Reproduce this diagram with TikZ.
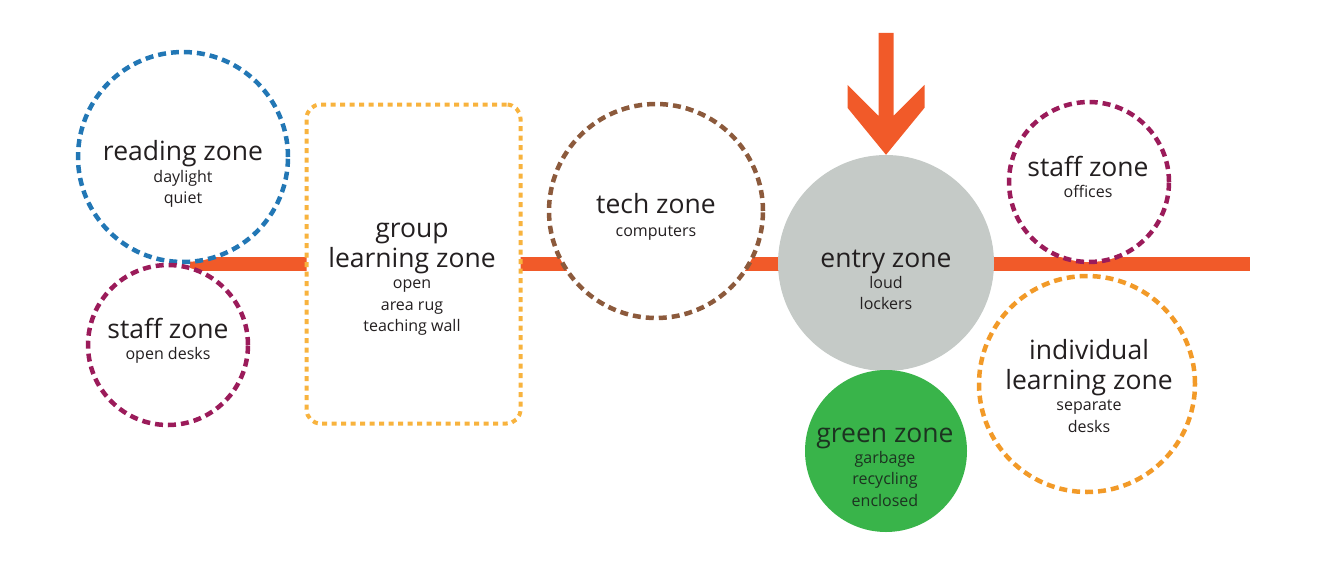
\documentclass[tikz,border=0pt]{standalone}
\usepackage{fontspec}
\setmainfont{Open Sans}
\definecolor{ink}{HTML}{231F20}
\definecolor{greenink}{HTML}{1C3320}
\definecolor{lineOr}{HTML}{F15A29}
\definecolor{blueZ}{HTML}{2277B5}
\definecolor{magZ}{HTML}{9B1B5A}
\definecolor{rectOr}{HTML}{F8B33E}
\definecolor{brownZ}{HTML}{8C5A3C}
\definecolor{indOr}{HTML}{F29A28}
\definecolor{grayZ}{HTML}{C5CAC7}
\definecolor{greenZ}{HTML}{39B44A}
\begin{document}
\begin{tikzpicture}[x=1pt,y=-1pt,
  zt/.style={anchor=base,font=\fontsize{26.5}{30}\selectfont,text=ink,inner sep=0pt},
  zs/.style={anchor=base,font=\fontsize{16}{20}\selectfont,text=ink,inner sep=0pt},
  dzone/.style={circle,draw,fill=white,line width=4.5pt,dash pattern=on 8pt off 5pt,minimum size=#1,inner sep=0pt},
  fzone/.style={circle,minimum size=#1,inner sep=0pt},
  corridor/.style={draw=lineOr,line width=14pt}]
\useasboundingbox (0,0) rectangle (1320,573);
% corridor line (behind the zones)
\coordinate (cL) at (190,264);
\coordinate (cR) at (1250,264);
\draw[corridor] (cL) -- (cR);
% zones
\node[dzone=210pt,draw=blueZ] (reading) at (183,157) {};
\node[dzone=160pt,draw=magZ] (staffL) at (168,345) {};
\node[rectangle,draw=rectOr,fill=white,line width=4pt,dash pattern=on 5pt off 4.5pt,
      rounded corners=14pt,minimum width=214pt,minimum height=319pt,inner sep=0pt] (group) at (413.5,264) {};
\node[dzone=214pt,draw=brownZ] (tech) at (656,211) {};
\node[fzone=216pt,fill=grayZ] (entry) at (886,263) {};
\node[fzone=162pt,fill=greenZ] (green) at (886,451) {};
\node[dzone=160pt,draw=magZ] (staffR) at (1089,182) {};
\node[dzone=216pt,draw=indOr] (indiv) at (1087,384) {};
% entry arrow
\fill[lineOr] (entry.north) -- ++(-38.5,-47) -- ++(0,-23) -- ++(31,31) -- ++(0,-83)
   -- ++(15,0) -- ++(0,83) -- ++(31,-31) -- ++(0,23) -- cycle;
% texts
\node[zt] (readingT) at (183,160) {reading zone};
\node[zs] (readingA) at (183,182) {daylight};
\node[zs] (readingB) at (183,203) {quiet};
\node[zt] (groupT) at (412,237) {group};
\node[zt] (groupU) at (412,267) {learning zone};
\node[zs] (groupA) at (412,288) {open};
\node[zs] (groupB) at (412,310) {area rug};
\node[zs] (groupC) at (412,331) {teaching wall};
\node[zt] (techT) at (656,213) {tech zone};
\node[zs] (techA) at (656,236) {computers};
\node[zt] (entryT) at (886,267) {entry zone};
\node[zs] (entryA) at (886,288) {loud};
\node[zs] (entryB) at (886,309) {lockers};
\node[zt] (staffRT) at (1088,176) {staff zone};
\node[zs] (staffRA) at (1088,197) {offices};
\node[zt] (indivT) at (1089,359) {individual};
\node[zt] (indivU) at (1089,389) {learning zone};
\node[zs] (indivA) at (1089,410) {separate};
\node[zs] (indivB) at (1089,432) {desks};
\node[zt] (staffLT) at (168,338) {staff zone};
\node[zs] (staffLA) at (168,359) {open desks};
\node[zt,text=greenink] (greenT) at (885,442) {green zone};
\node[zs,text=greenink] (greenA) at (885,463) {garbage};
\node[zs,text=greenink] (greenB) at (885,484) {recycling};
\node[zs,text=greenink] (greenC) at (885,506) {enclosed};
\end{tikzpicture}
\end{document}
